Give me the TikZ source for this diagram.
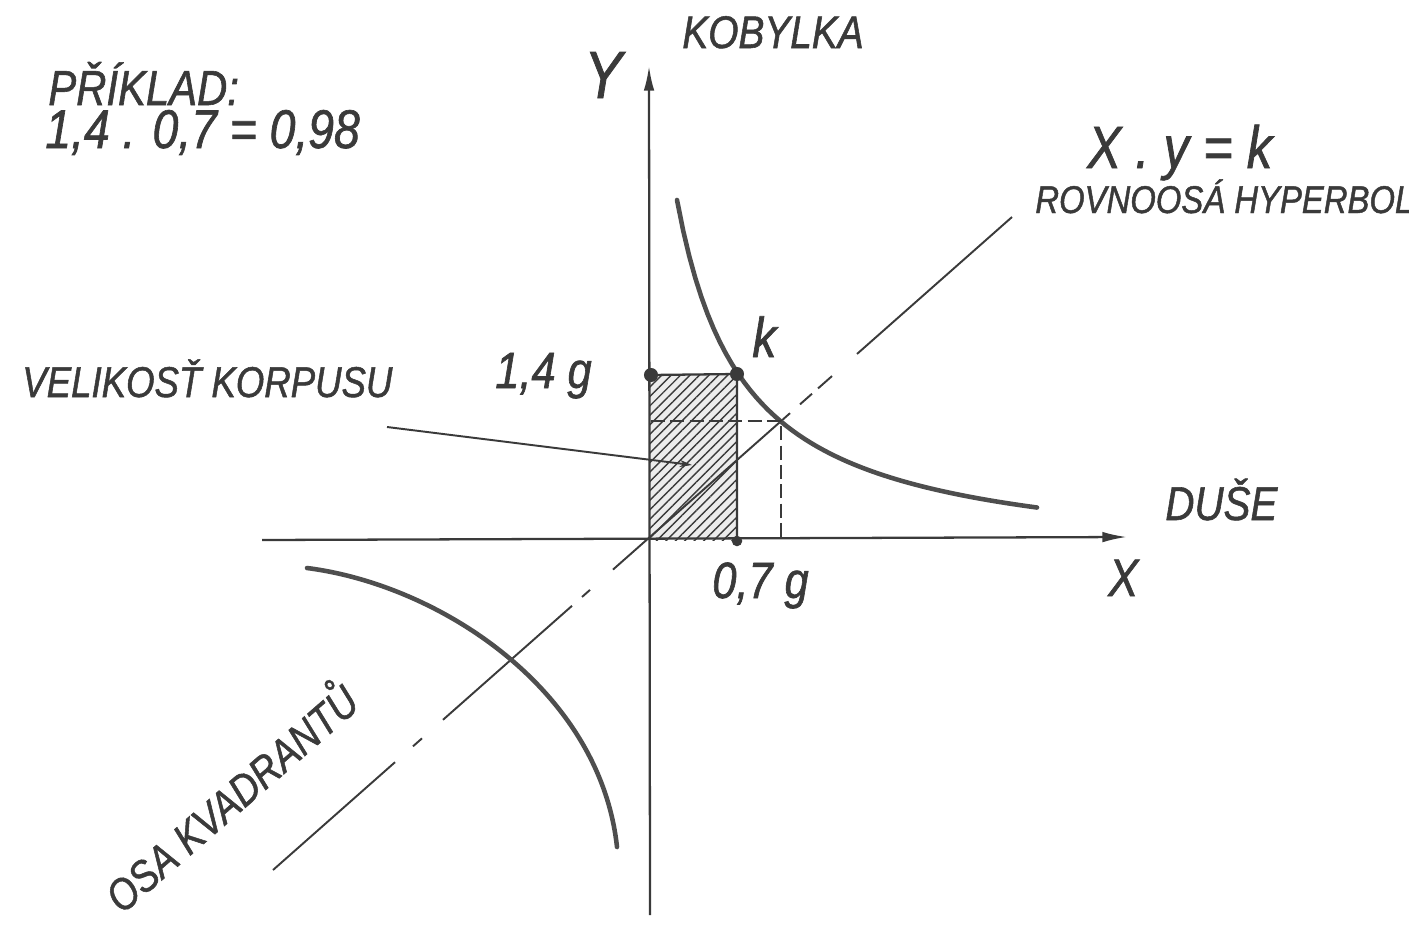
\documentclass[tikz,border=0pt]{standalone}
\usepackage{fontspec}
\newfontfamily\handfont[FakeStretch=0.85, FakeBold=1.2]{Liberation Sans}
\usetikzlibrary{arrows.meta,patterns.meta}
\definecolor{pencil}{HTML}{3A3A3A}
\tikzset{
  axis/.style={-{Latex[length=14pt,width=6pt]}, line width=1.3pt, pencil},
  hyper/.style={line width=2.6pt, pencil!90, line cap=round},
  diag/.style={line width=1.1pt, pencil},
  helper/.style={line width=1.2pt, pencil, dash pattern=on 8pt off 3pt},
  pointer/.style={-{Stealth[length=7pt,width=4pt]}, line width=1.1pt, pencil},
  dot/.style={circle, fill=pencil, inner sep=0pt, minimum size=8pt},
  hand/.style={font=\handfont\itshape\fontsize{#1}{#1}\selectfont, text=pencil, inner sep=0pt, anchor=base west}
}

\begin{document}
\begin{tikzpicture}[x=0.02cm, y=-0.02cm]
  \useasboundingbox (0,0) rectangle (1409,933);
  \clip (0,0) rectangle (1409,933);
  % corpus rectangle
  \fill[gray!15] (650,375) rectangle (737,540);
  \fill[pattern={Lines[angle=45, distance=3.8pt, line width=0.8pt]}, pattern color=pencil] (650,375) rectangle (737,540);
  % axes
  \coordinate (xstart) at (262,540);
  \coordinate (xend) at (1127,537);
  \coordinate (ystart) at (650,915);
  \coordinate (yend) at (649,66);
  \draw[axis] (xstart) -- (xend);
  \draw[axis] (ystart) -- (yend);
  % axis of quadrants
  \foreach \a/\b in {273/395, 413/422, 443/572, 582/590, 613/790, 800/812, 818/832, 857/1012}
    \draw[diag] (\a,{870-0.8836*(\a-273)}) -- (\b,{870-0.8836*(\b-273)});
  % hyperbola branches
  \draw[hyper] plot[domain=677:1037, samples=60] (\x,{565-245.65/((\x-609.7)/100)});
  \draw[hyper] (307,568) .. controls (440,585) and (600,690) .. (617,847);
  % points
  \node[dot] (d14) at (651,375) {};
  \node[dot] (dk) at (737,374) {};
  \node[dot, minimum size=6pt] (d07) at (737,541) {};
  \coordinate (hk) at (781,421);
  \coordinate (hky) at (651,421);
  \coordinate (hkx) at (781,540);
  \draw[line width=1.3pt, pencil] (d14.center) -- (dk.center) -- (d07.center);
  \draw[helper] (hky) -- (hk) -- (hkx);
  % labels
  \node[hand=28pt] (priklad) at (48,105) {PŘÍKLAD:};
  \node[hand=31pt] (soucin) at (45,148) {1,4 . 0,7 = 0,98};
  \node[hand=26pt] (kobylka) at (682,48) {KOBYLKA};
  \node[hand=38pt] (ylabel) at (584,98) {Y};
  \node[hand=34pt] (rovnice) at (1087,168) {X . y = k};
  \node[hand=22pt] (hyperbola) at (1035,213) {ROVNOOSÁ HYPERBOLA};
  \node[hand=24.5pt] (korpus) at (22,397) {VELIKOSŤ KORPUSU};
  \node[hand=29pt] (l14) at (495,388) {1,4 g};
  \node[hand=32pt] (lk) at (752,357) {k};
  \node[hand=27pt] (duse) at (1165,520) {DUŠE};
  \node[hand=30pt] (xlabel) at (1108,596) {X};
  \node[hand=29pt] (l07) at (712,598) {0,7 g};
  \node[hand=25pt, rotate=41] (osa) at (122,915) {OSA KVADRANTŮ};
  % pointer to corpus
  \coordinate (korpusfrom) at (387,427);
  \coordinate (korpusto) at (692,465);
  \draw[pointer] (korpusfrom) -- (korpusto);
\end{tikzpicture}
\end{document}
